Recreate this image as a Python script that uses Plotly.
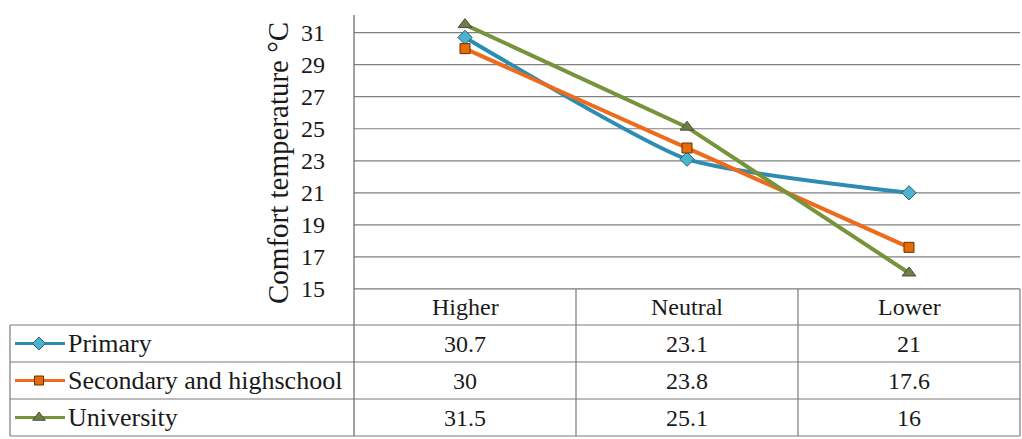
import plotly.graph_objects as go

# Comfort temperature by perceived thermal preference, per education level
categories = ["Higher", "Neutral", "Lower"]
series_names = ["Primary", "Secondary and highschool", "University"]
primary = [30.7, 23.1, 21]
secondary = [30, 23.8, 17.6]
university = [31.5, 25.1, 16]
y_ticks = [15, 17, 19, 21, 23, 25, 27, 29, 31]
y_title = "Comfort temperature °C"

W, H = 1022, 439
FONT = "Times New Roman, Liberation Serif, DejaVu Serif, serif"
GRID = "#808080"
TABLE_LINE = "#7b7b7b"

# pixel layout of plot area and data table
plot_left, plot_right = 354, 1020
plot_top, plot_bottom = 15, 289
table_left = 10
row_edges = [plot_bottom, 325, 362, 399, 436]


def px(x):
    return x / W


def py(y):
    return 1 - y / H


styles = [
    dict(line=dict(color="#2d8cb2", width=4, shape="spline", smoothing=0.5),
         marker=dict(symbol="diamond", size=11, color="#4bb3d0",
                     line=dict(color="#2f5f70", width=1))),
    dict(line=dict(color="#ef6b1c", width=4),
         marker=dict(symbol="square", size=10, color="#e46c0a",
                     line=dict(color="#6b3000", width=1))),
    dict(line=dict(color="#77933c", width=4),
         marker=dict(symbol="triangle-up", size=12, color="#6e8040",
                     line=dict(color="#4a4a4a", width=1))),
]
series_values = [primary, secondary, university]

fig = go.Figure()
for name, vals, st in zip(series_names, series_values, styles):
    fig.add_trace(go.Scatter(x=categories, y=vals, name=name, mode="lines+markers",
                             line=st["line"], marker=st["marker"], showlegend=False,
                             xaxis="x", yaxis="y"))

# legend keys inside the table, drawn on a page-spanning axis pair
key_x = [15, 39, 65]
for i, st in enumerate(styles):
    yc = (row_edges[i + 1] + row_edges[i + 2]) / 2
    kline = dict(st["line"])
    kline.pop("shape", None)
    kline.pop("smoothing", None)
    kline["width"] = 3
    kmarker = dict(st["marker"])
    kmarker["size"] = kmarker["size"] - 1
    fig.add_trace(go.Scatter(x=key_x, y=[yc] * 3, mode="lines", line=kline,
                             showlegend=False, xaxis="x2", yaxis="y2", hoverinfo="skip"))
    fig.add_trace(go.Scatter(x=[key_x[1]], y=[yc], mode="markers", marker=kmarker,
                             showlegend=False, xaxis="x2", yaxis="y2", hoverinfo="skip"))

shapes = []
# horizontal gridlines
for t in y_ticks:
    shapes.append(dict(type="line", xref="paper", yref="y", x0=px(plot_left), x1=px(plot_right),
                       y0=t, y1=t, line=dict(color=GRID, width=1.2), layer="below"))
# table horizontal rules
shapes.append(dict(type="line", xref="paper", yref="paper", x0=px(plot_left), x1=px(plot_right),
                   y0=py(row_edges[0]), y1=py(row_edges[0]), line=dict(color=TABLE_LINE, width=1.2)))
for ye in row_edges[1:]:
    shapes.append(dict(type="line", xref="paper", yref="paper", x0=px(table_left), x1=px(plot_right),
                       y0=py(ye), y1=py(ye), line=dict(color=TABLE_LINE, width=1.2)))
# vertical rules: value axis / first divider, category dividers, outer edges
shapes.append(dict(type="line", xref="paper", yref="paper", x0=px(plot_left), x1=px(plot_left),
                   y0=py(plot_top), y1=py(row_edges[-1]), line=dict(color="#666666", width=1.2)))
col_w = (plot_right - plot_left) / len(categories)
for k in range(1, len(categories) + 1):
    xe = plot_left + k * col_w
    shapes.append(dict(type="line", xref="paper", yref="paper", x0=px(xe), x1=px(xe),
                       y0=py(row_edges[0]), y1=py(row_edges[-1]), line=dict(color=TABLE_LINE, width=1.2)))
shapes.append(dict(type="line", xref="paper", yref="paper", x0=px(table_left), x1=px(table_left),
                   y0=py(row_edges[1]), y1=py(row_edges[-1]), line=dict(color=TABLE_LINE, width=1.2)))

annotations = []
TXT = dict(family=FONT, size=24, color="#1a1a1a")
NAME_TXT = dict(family=FONT, size=26, color="#1a1a1a")
for j, cat in enumerate(categories):
    xc = plot_left + (j + 0.5) * col_w
    annotations.append(dict(text=cat, xref="paper", yref="paper", x=px(xc),
                            y=py((row_edges[0] + row_edges[1]) / 2), showarrow=False,
                            xanchor="center", yanchor="middle", font=TXT))
    for i, vals in enumerate(series_values):
        yc = (row_edges[i + 1] + row_edges[i + 2]) / 2
        annotations.append(dict(text=f"{vals[j]:g}", xref="paper", yref="paper", x=px(xc),
                                y=py(yc), showarrow=False, xanchor="center",
                                yanchor="middle", font=TXT))
for i, name in enumerate(series_names):
    yc = (row_edges[i + 1] + row_edges[i + 2]) / 2
    annotations.append(dict(text=name, xref="paper", yref="paper", x=px(66), y=py(yc),
                            showarrow=False, xanchor="left", yanchor="middle", font=NAME_TXT))
annotations.append(dict(text=y_title, xref="paper", yref="paper", x=px(278), y=py(163),
                        textangle=-90, showarrow=False, xanchor="center", yanchor="middle",
                        font=dict(family=FONT, size=29, color="#1a1a1a")))

fig.update_layout(
    width=W, height=H,
    margin=dict(l=0, r=0, t=0, b=0, pad=0, autoexpand=False),
    paper_bgcolor="white", plot_bgcolor="rgba(0,0,0,0)",
    xaxis=dict(type="category", domain=[px(plot_left), px(plot_right)], range=[-0.5, 2.5],
               showticklabels=False, showgrid=False, zeroline=False, showline=False, ticks="",
               automargin=False),
    yaxis=dict(domain=[py(plot_bottom), py(plot_top)], range=[15, 32.1], tickvals=y_ticks,
               showgrid=False, zeroline=False, showline=False, ticks="", automargin=False,
               ticklabelstandoff=28, tickfont=dict(family=FONT, size=24, color="#1a1a1a")),
    xaxis2=dict(domain=[0, 1], range=[0, W], visible=False, anchor="y2", automargin=False),
    yaxis2=dict(domain=[0, 1], range=[H, 0], visible=False, anchor="x2", automargin=False),
    shapes=shapes, annotations=annotations,
    showlegend=False,
)

fig.write_html("out.html")
